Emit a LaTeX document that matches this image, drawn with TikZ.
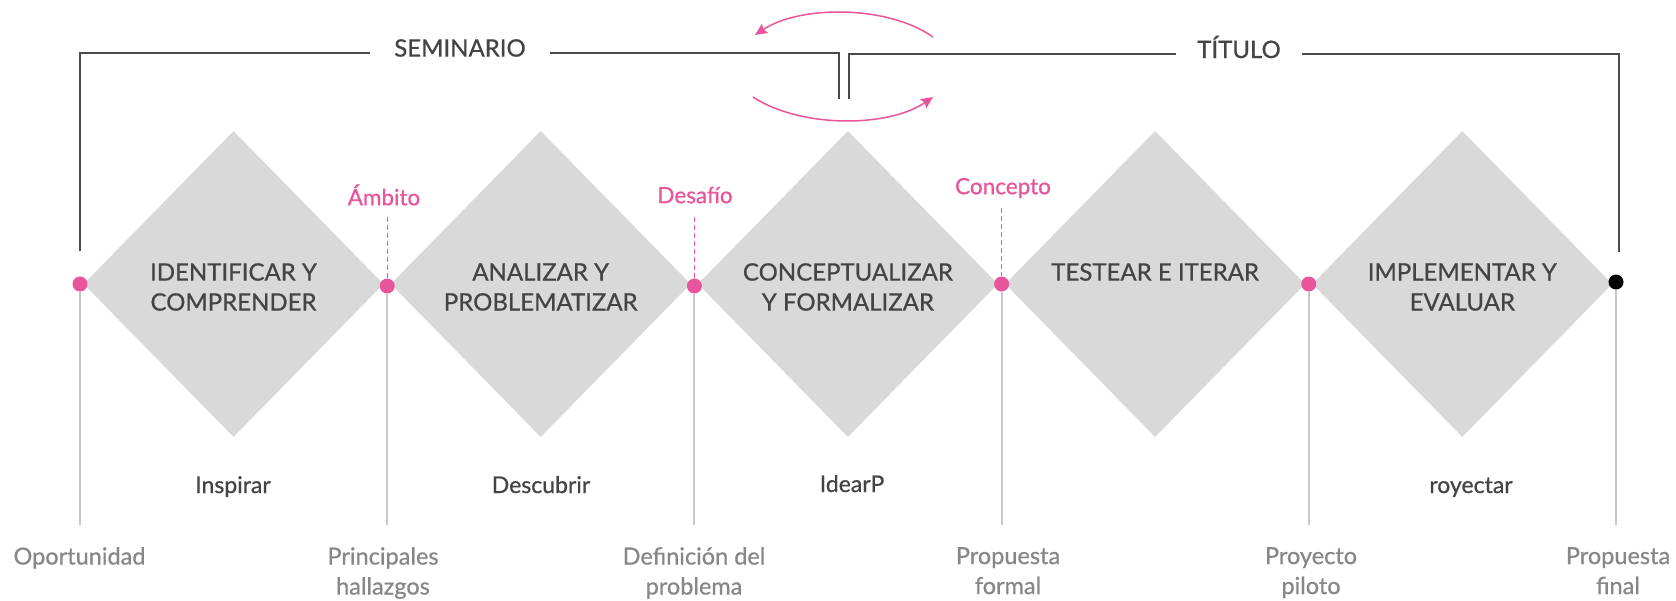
\documentclass[tikz,border=0pt]{standalone}
\usepackage{fontspec}
\setmainfont{Lato}[FakeBold=0.7]
\usetikzlibrary{shapes.geometric,arrows.meta}
\definecolor{pinkc}{HTML}{E8559A}
\definecolor{diamc}{HTML}{D9D9D9}
\definecolor{darkt}{HTML}{444444}
\definecolor{greyt}{HTML}{878787}
\definecolor{linec}{HTML}{C8C8C8}
\definecolor{brack}{HTML}{4A4A4A}
\begin{document}
\begin{tikzpicture}[x=1pt,y=-1pt,
  phase/.style={diamond, fill=diamc, minimum width=300pt, minimum height=306pt, inner sep=0pt},
  pdot/.style={circle, fill=pinkc, minimum size=15pt, inner sep=0pt},
  edot/.style={circle, fill=black, minimum size=15pt, inner sep=0pt},
  phasetext/.style={text=darkt, font=\fontsize{24}{30}\selectfont, align=center, inner sep=0pt},
  actext/.style={text=darkt, font=\fontsize{23}{28}\selectfont, inner sep=0pt, anchor=base},
  outtext/.style={text=greyt, font=\fontsize{23.5}{30}\selectfont, align=center, inner sep=0pt},
  pinktext/.style={text=pinkc, font=\fontsize{22.5}{26}\selectfont, inner sep=0pt},
  headtext/.style={text=darkt, font=\fontsize{24}{28}\selectfont, inner ysep=0pt},
  bracketline/.style={draw=brack, line width=2.7pt},
  stemline/.style={draw=linec, line width=2pt},
  dashline/.style={draw=pinkc, line width=1.2pt, dash pattern=on 5pt off 3pt},
  cyclearrow/.style={draw=pinkc, line width=1.5pt, -{Stealth[length=12pt,width=11pt,inset=2pt]}}
]
\useasboundingbox (0,0) rectangle (1676,600);

% diamonds
\node[phase] (d1) at (233.5,284) {};
\node[phase] (d2) at (540.7,284) {};
\node[phase] (d3) at (847.9,284) {};
\node[phase] (d4) at (1155.1,284) {};
\node[phase] (d5) at (1462.3,284) {};

% stem ends
\coordinate (e0) at (80,525);
\coordinate (e1) at (387.2,525);
\coordinate (e2) at (694.4,525);
\coordinate (e3) at (1001.6,525);
\coordinate (e4) at (1308.8,525);
\coordinate (e5) at (1616,525);

% dots
\node[pdot] (p0) at (80,284) {};
\node[pdot] (p1) at (387.2,286) {};
\node[pdot] (p2) at (694.4,286) {};
\node[pdot] (p3) at (1001.6,284) {};
\node[pdot] (p4) at (1308.8,284) {};
\node[edot] (p5) at (1616,282) {};

\foreach \i in {0,...,5} {\draw[stemline] (p\i.south) -- (e\i);}

% phase texts
\node[phasetext] (t1) at (233.5,287) {IDENTIFICAR Y\\COMPRENDER};
\node[phasetext] (t2) at (540.7,287) {ANALIZAR Y\\PROBLEMATIZAR};
\node[phasetext] (t3) at (847.9,287) {CONCEPTUALIZAR\\Y FORMALIZAR};
\node[phasetext] (t4) at (1155.1,272) {TESTEAR E ITERAR};
\node[phasetext] (t5) at (1462.3,287) {IMPLEMENTAR Y\\EVALUAR};

% action texts
\node[actext] (a1) at (233,493) {Inspirar};
\node[actext] (a2) at (541,493) {Descubrir};
\node[actext] (a3) at (852,492) {IdearP};
\node[actext] (a5) at (1471,493) {royectar};

% outputs
\node[outtext, anchor=north] (o0) at (79.5,547) {Oportunidad};
\node[outtext, anchor=north] (o1) at (383,547) {Principales\\hallazgos};
\node[outtext, anchor=north] (o2) at (694,547) {Definición del\\problema};
\node[outtext, anchor=north] (o3) at (1008,547) {Propuesta\\formal};
\node[outtext, anchor=north] (o4) at (1311,547) {Proyecto\\piloto};
\node[outtext, anchor=north] (o5) at (1618,547) {Propuesta\\final};

% pink labels
\node[pinktext] (l1) at (384,195) {Ámbito};
\node[pinktext] (l2) at (695,195) {Desafío};
\node[pinktext] (l3) at (1003,188) {Concepto};
\coordinate (k1) at (387.2,217);
\coordinate (k2) at (694.4,217);
\coordinate (k3) at (1001.6,208);
\draw[dashline] (k1) -- (p1.north);
\draw[dashline] (k2) -- (p2.north);
\draw[dashline] (k3) -- (p3.north);

% brackets
\node[headtext, inner xsep=24pt] (sem) at (460,48) {SEMINARIO};
\node[headtext, inner xsep=21pt] (tit) at (1239,47) {TÍTULO};
\coordinate (sA) at (80,251);
\coordinate (sB) at (80,53);
\coordinate (sC) at (839,53);
\coordinate (sD) at (839,99);
\draw[bracketline] (sA) -- (sB) -- (sB -| sem.west);
\draw[bracketline] (sB -| sem.east) -- (sC) -- (sD);
\coordinate (rA) at (849,99);
\coordinate (rB) at (849,54);
\coordinate (rC) at (1619,54);
\coordinate (rD) at (1619,252);
\draw[bracketline] (rA) -- (rB) -- (rB -| tit.west);
\draw[bracketline] (rB -| tit.east) -- (rC) -- (rD);

% cycle arrows
\coordinate (ca1) at (933,37);
\coordinate (ca2) at (755,35);
\coordinate (cb1) at (753,97);
\coordinate (cb2) at (933,97);
\draw[cyclearrow] (ca1) .. controls (888,5) and (800,5) .. (ca2);
\draw[cyclearrow] (cb1) .. controls (800,128) and (888,128) .. (cb2);
\end{tikzpicture}
\end{document}
